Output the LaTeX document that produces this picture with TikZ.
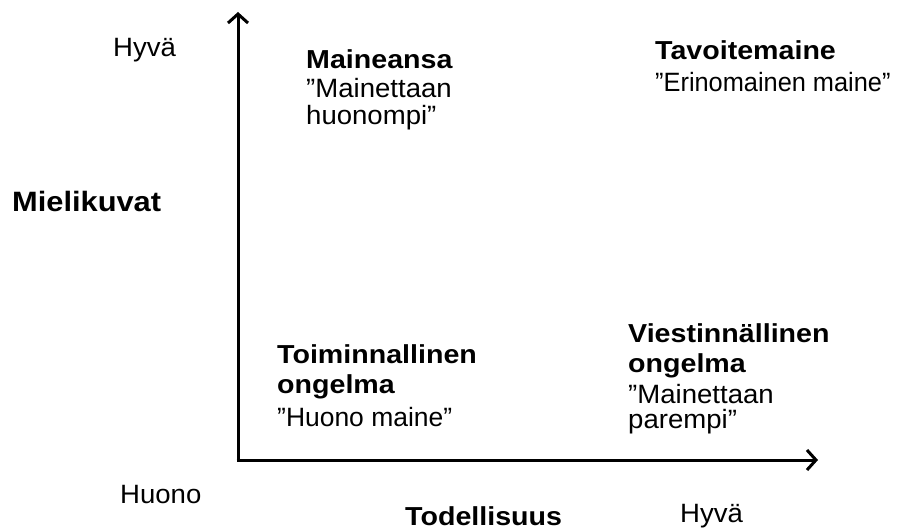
\documentclass[tikz,border=0pt]{standalone}
\usepackage{fontspec}
\setmainfont{Liberation Sans}[FakeStretch=1.04]
\newfontfamily\boldfam{Liberation Sans}[FakeStretch=1.1]
\usetikzlibrary{arrows.meta}
\tikzset{
  lbl/.style={anchor=base west, inner sep=0pt, font=\fontsize{26.5}{30}\selectfont},
  blbl/.style={lbl, font=\boldfam\fontsize{26}{30}\selectfont\bfseries},
  axis/.style={line width=3pt, -{Straight Barb[length=9pt,width=20pt,line width=3pt]}}
}
\begin{document}
\begin{tikzpicture}[x=1pt,y=-1pt]
\useasboundingbox[fill=white] (0,0) rectangle (899,529);
\coordinate (o) at (238,460);
\coordinate (ytip) at (238,12);
\coordinate (xtip) at (818,460);
\draw[axis] ([yshift=-1.5pt]o) -- (ytip);
\draw[axis] ([xshift=-1.5pt]o) -- (xtip);

\node[lbl] (hyvaY) at (113,57) {Hyvä};
\node[blbl, font=\boldfam\fontsize{28}{30}\selectfont\bfseries] (mieli) at (12,212) {Mielikuvat};

\node[blbl] (ma1) at (306,69) {Maineansa};
\node[lbl] (ma2) at (306,98) {”Mainettaan};
\node[lbl] (ma3) at (306,125) {huonompi”};

\node[blbl] (ta1) at (655,60) {Tavoitemaine};
\node[lbl] (ta2) at (655,92) {\scalebox{0.92}[1]{”Erinomainen maine”}};

\node[blbl] (to1) at (277,363) {Toiminnallinen};
\node[blbl] (to2) at (277,393) {ongelma};
\node[lbl] (to3) at (277,426) {\scalebox{0.96}[1]{”Huono maine”}};

\node[blbl] (vi1) at (628,342) {Viestinnällinen};
\node[blbl] (vi2) at (628,372) {ongelma};
\node[lbl] (vi3) at (628,403) {”Mainettaan};
\node[lbl] (vi4) at (628,428) {parempi”};

\node[lbl] (huono) at (120,503) {Huono};
\node[blbl, text depth=0pt] (tod) at (405,525) {Todellisuus};
\node[lbl] (hyvaX) at (680,522) {Hyvä};
\end{tikzpicture}
\end{document}
